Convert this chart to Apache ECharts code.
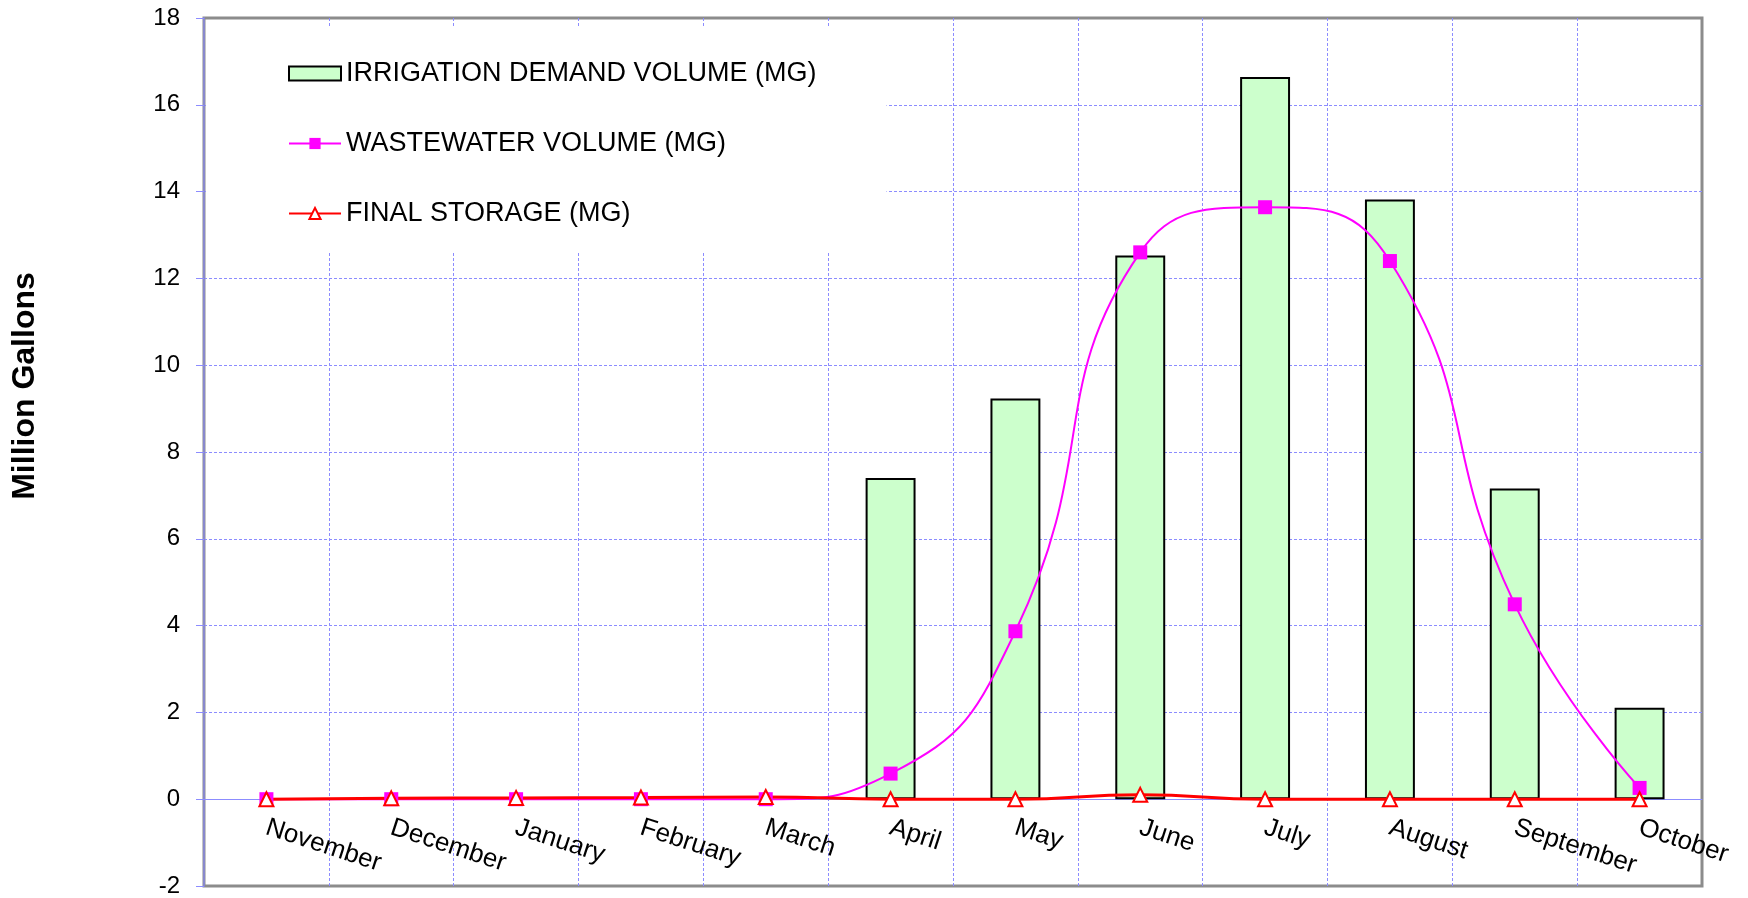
<!DOCTYPE html>
<html>
<head>
<meta charset="utf-8">
<title>Irrigation demand</title>
<script src="https://cdn.jsdelivr.net/npm/echarts@6/dist/echarts.min.js"></script>
<style>
    html, body { margin: 0; padding: 0; background: #fff; }
    #echarts { width: 1748px; height: 898px; }
</style>
</head>
<body>
<div id="echarts"></div>
<script>
var months = ['November', 'December', 'January', 'February', 'March', 'April',
    'May', 'June', 'July', 'August', 'September', 'October'];
var irrigationDemand = [0, 0, 0, 0, 0, 7.40, 9.23, 12.53, 16.64, 13.82, 7.16, 2.11];
var wastewater = [0, 0, 0, 0, 0, 0.59, 3.87, 12.6, 13.64, 12.4, 4.49, 0.26];
var finalStorage = [0, 0.02, 0.03, 0.04, 0.05, 0, 0, 0.1, 0, 0, 0, 0];
var yTicks = { min: -2, max: 18, interval: 2 };

var font = '"Liberation Sans", Arial, sans-serif';
var gridBlue = '#8c8cff';

var myChart = echarts.init(document.getElementById('echarts'));

// bars with no demand get no outline (nothing is drawn there in the original)
var barData = irrigationDemand.map(function (v) {
    return v === 0 ? { value: v, itemStyle: { borderWidth: 0 } } : v;
});

var option = {
    backgroundColor: '#fff',
    animation: false,
    textStyle: { fontFamily: font, color: '#000' },
    grid: {
        left: 204, right: 46, top: 18, bottom: 12,
        outerBoundsMode: 'none',
        show: true,
        borderColor: '#8c8c8c',
        borderWidth: 3
    },
    legend: {
        orient: 'vertical',
        left: 206,
        top: 28,
        padding: [32, 70, 24, 82],
        backgroundColor: '#fff',
        itemWidth: 52,
        itemHeight: 14,
        itemGap: 43,
        textStyle: { fontSize: 27, color: '#000', fontFamily: font },
        data: [
            { name: 'IRRIGATION DEMAND VOLUME (MG)', icon: 'rect' },
            'WASTEWATER VOLUME (MG)',
            'FINAL STORAGE (MG)'
        ]
    },
    graphic: [{
        type: 'text',
        x: 25,
        y: 386,
        rotation: Math.PI / 2,
        style: {
            text: 'Million Gallons',
            fontSize: 32,
            fontWeight: 'bold',
            fontFamily: font,
            fill: '#000',
            textAlign: 'center',
            textVerticalAlign: 'middle'
        }
    }],
    xAxis: {
        type: 'category',
        data: months,
        boundaryGap: true,
        axisLine: { onZero: true, lineStyle: { color: gridBlue, width: 1 } },
        axisTick: { show: false },
        axisLabel: {
            rotate: -18,
            margin: -59,   // labels sit just under the zero line, not the plot bottom
            fontSize: 26,
            color: '#000',
            fontFamily: font
        },
        splitLine: {
            show: true,
            showMinLine: false,
            showMaxLine: false,
            lineStyle: { color: gridBlue, type: [3, 2], width: 1 }
        }
    },
    yAxis: {
        type: 'value',
        min: yTicks.min,
        max: yTicks.max,
        interval: yTicks.interval,
        axisLine: { show: true, lineStyle: { color: '#8888cc', width: 2 } },
        axisTick: { show: true, inside: false, length: 8, lineStyle: { color: gridBlue } },
        axisLabel: { fontSize: 24, color: '#000', margin: 24, fontFamily: font },
        splitLine: {
            show: true,
            showMinLine: false,
            showMaxLine: false,
            lineStyle: { color: gridBlue, type: [3, 2], width: 1 }
        }
    },
    series: [
        {
            name: 'IRRIGATION DEMAND VOLUME (MG)',
            type: 'bar',
            barWidth: '40%',
            data: barData,
            itemStyle: { color: '#ccffcc', borderColor: '#000', borderWidth: 2 }
        },
        {
            name: 'WASTEWATER VOLUME (MG)',
            type: 'line',
            smooth: 0.5,
            data: wastewater,
            symbol: 'rect',
            symbolSize: 14,
            lineStyle: { color: '#ff00ff', width: 2 },
            itemStyle: { color: '#ff00ff' }
        },
        {
            name: 'FINAL STORAGE (MG)',
            type: 'line',
            smooth: 0.5,
            data: finalStorage,
            symbol: 'triangle',
            symbolSize: 14,
            lineStyle: { color: '#ff0000', width: 3 },
            itemStyle: { color: '#fff', borderColor: '#ff0000', borderWidth: 2 }
        }
    ]
};

myChart.setOption(option);
</script>
</body>
</html>
